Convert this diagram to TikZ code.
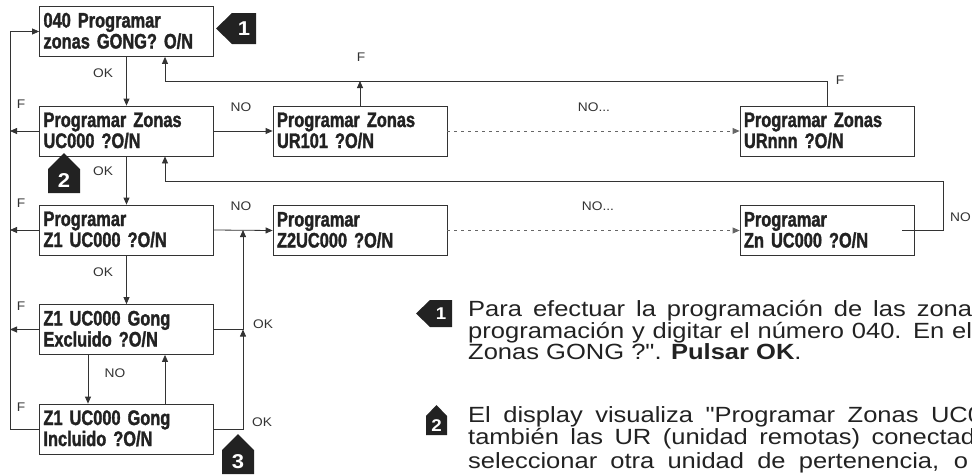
\documentclass[tikz,border=0pt]{standalone}
\usepackage{fontspec}
\setmainfont{Liberation Sans}
\newfontfamily\boxfont[FakeStretch=0.78,FakeBold=1.5]{Liberation Sans Bold}
\newfontfamily\labfont[FakeStretch=1.1]{Liberation Sans}
\newfontfamily\parfont[FakeStretch=1.16]{Liberation Sans}
\usetikzlibrary{arrows.meta}
\definecolor{ln}{HTML}{333333}
\definecolor{txt}{HTML}{222222}
\definecolor{dotc}{HTML}{666666}
\begin{document}
\begin{tikzpicture}[x=1pt,y=-1pt,
  zbox/.style={draw=ln,line width=0.8pt,minimum width=174pt,minimum height=50pt,
    inner xsep=4pt,inner ysep=0pt,text width=166pt,align=left,
    font={\boxfont\fontsize{21}{21}\selectfont\spaceskip=2.5pt\relax},text=txt},
  arr/.style={draw=ln,line width=0.8pt,-{Triangle[length=7pt,width=6pt]}},
  dotarr/.style={draw=dotc,line width=0.8pt,dash pattern=on 3pt off 4pt,-{Triangle[length=7pt,width=6pt]}},
  lab/.style={font=\labfont\fontsize{12.5}{14}\selectfont,text=ln,inner sep=0pt},
  par/.style={font=\parfont\fontsize{22}{21}\selectfont,text=txt,inner sep=0pt,anchor=base west},
  badge/.style={fill=txt},
  bnum/.style={font=\labfont\bfseries\fontsize{20}{20}\selectfont,text=white,inner sep=0pt}
]
\useasboundingbox (0,0) rectangle (972,474);
\clip (0,0) rectangle (972,474);

\newcommand{\bl}[2]{\rule{0pt}{16pt}#1\\#2\rule[-3pt]{0pt}{3pt}}

% boxes
\node[zbox] (b1) at (126.5,31.5) {\bl{040 Programar}{zonas GONG? O/N}};
\node[zbox] (b2) at (126.5,131) {\bl{Programar Zonas}{UC000 ?O/N}};
\node[zbox] (b3) at (126.5,230) {\bl{Programar}{Z1 UC000 ?O/N}};
\node[zbox] (b4) at (126.5,329.5) {\bl{Z1 UC000 Gong}{Excluido ?O/N}};
\node[zbox] (b5) at (126.5,429) {\bl{Z1 UC000 Gong}{Incluido ?O/N}};
\node[zbox] (u1) at (360,131) {\bl{Programar Zonas}{UR101 ?O/N}};
\node[zbox] (un) at (827,131) {\bl{Programar Zonas}{URnnn ?O/N}};
\node[zbox] (z2) at (360,230.5) {\bl{Programar}{Z2UC000 ?O/N}};
\node[zbox] (zn) at (827,230.5) {\bl{Programar}{Zn UC000 ?O/N}};

% helper coordinates
\coordinate (lb) at (10,429);
\coordinate (t1) at (165,81);
\coordinate (t2) at (165,181);
\coordinate (r2) at (943,181);
\coordinate (j1) at (243,329.5);

% vertical OK chain
\draw[arr] (b1.south) -- (b2.north);
\draw[arr] (b2.south) -- (b3.north);
\draw[arr] (b3.south) -- (b4.north);
\draw[arr] ([xshift=-38.5pt]b4.south) -- ([xshift=-38.5pt]b5.north);
\draw[arr] ([xshift=38.5pt]b5.north) -- ([xshift=38.5pt]b4.south);

% left loop
\draw[arr] (b5.west) -- (lb) |- (b1.west);
\draw[arr] (b2.west) -- (b2.west -| lb);
\draw[arr] (b3.west) -- (b3.west -| lb);
\draw[arr] (b4.west) -- (b4.west -| lb);

% rows
\draw[arr] (b2.east) -- (u1.west);
\draw[dotarr] (u1.east) -- (un.west);
\draw[arr] (b3.east) -- (z2.west);
\draw[dotarr] (z2.east) -- (zn.west);

% returns
\draw[arr] (u1.north) -- (u1.north |- t1);
\draw[arr] (un.north) |- (t1) -- (t1 |- b1.south);
\draw[arr] ([xshift=-12pt]zn.east) -| (r2) -- (t2) -- (t2 |- b2.south);
\draw[arr] (b4.east) -- (j1) -- (j1 |- b3.east);
\draw[arr] (b5.east) -| (j1);

% labels
\node[lab] (lok1) at (103,73) {OK};
\node[lab] (lok2) at (103,171) {OK};
\node[lab] (lok3) at (103,272) {OK};
\node[lab] (lno4) at (115,373) {NO};
\node[lab] (lf1) at (21,104) {F};
\node[lab] (lf2) at (21,203) {F};
\node[lab] (lf3) at (21,306) {F};
\node[lab] (lf4) at (21,407) {F};
\node[lab] (lno1) at (241,107) {NO};
\node[lab] (lno2) at (241,206) {NO};
\node[lab] (lnd1) at (594,107) {NO...};
\node[lab] (lnd2) at (598,206) {NO...};
\node[lab] (lfu) at (361,57) {F};
\node[lab] (lfn) at (840,80) {F};
\node[lab] (lokr1) at (263,324) {OK};
\node[lab] (lokr2) at (262,422) {OK};
\node[lab,anchor=west] (lnor) at (950,217) {NO};

% badges in diagram
\fill[badge] (216,28.5) -- (232,13) -- (256,13) -- (256,44) -- (232,44) -- cycle;
\node[bnum] (n1) at (244,29) {1};
\fill[badge] (64,153) -- (80,169) -- (80,193) -- (48,193) -- (48,169) -- cycle;
\node[bnum] (n2) at (64,181) {2};
\fill[badge] (238,434) -- (254,450) -- (254,474) -- (222,474) -- (222,450) -- cycle;
\node[bnum] (n3) at (238,462) {3};

% badges in text
\fill[badge] (416,313.5) -- (430,300) -- (452,300) -- (452,327) -- (430,327) -- cycle;
\node[bnum,font=\labfont\bfseries\fontsize{17}{17}\selectfont] (m1) at (441,314) {1};
\fill[badge] (436.5,405) -- (447,416) -- (447,435) -- (426,435) -- (426,416) -- cycle;
\node[bnum,font=\labfont\bfseries\fontsize{17}{17}\selectfont] (m2) at (436.5,426) {2};

% paragraph
\node[par] (p1) at (468,316) {\makebox[504pt][s]{Para efectuar la programación de las zona}};
\node[par] (p2) at (468,338) {\makebox[504pt][s]{programación y digitar el número 040. En el}};
\node[par] (p3) at (468,359) {Zonas GONG ?". \textbf{Pulsar OK}.};
\node[par] (p4) at (468,422) {\makebox[514pt][s]{El display visualiza "Programar Zonas UC0}};
\node[par] (p5) at (468,444) {\makebox[507pt][s]{también las UR (unidad remotas) conectad}};
\node[par] (p6) at (468,468) {\makebox[500pt][s]{seleccionar otra unidad de pertenencia, o}};
\end{tikzpicture}
\end{document}
